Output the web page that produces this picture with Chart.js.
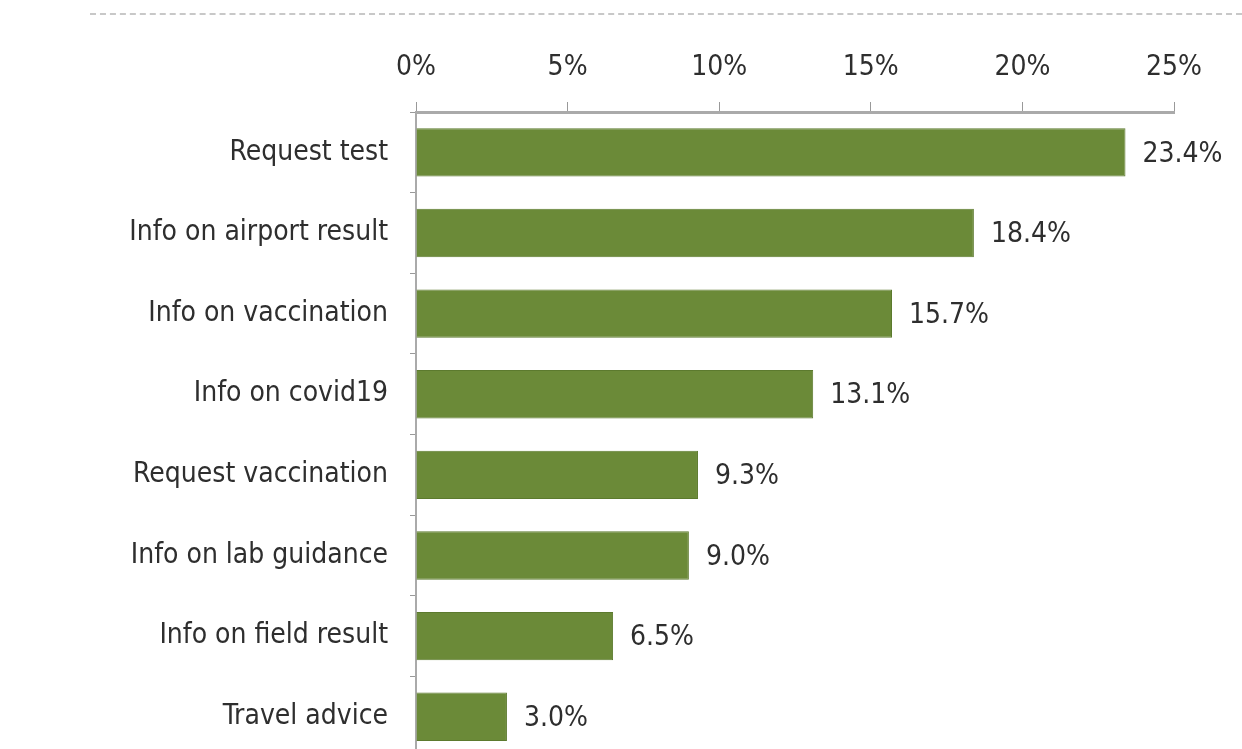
<!DOCTYPE html>
<html>
<head>
<meta charset="utf-8">
<script src="https://cdn.jsdelivr.net/npm/chart.js@4"></script>
<style>
  html, body { margin: 0; padding: 0; background: #fff; overflow: hidden; }
  #wrap { position: relative; width: 1242px; height: 760px; }
  #rule { position: absolute; left: 90px; right: 0; top: 13px; border-top: 2px dashed #c8c8c8; }
</style>
</head>
<body>
<div id="wrap">
  <div id="rule"></div>
  <canvas id="myChart" width="1242" height="760"></canvas>
</div>
<script>
const categories = ['Request test', 'Info on airport result', 'Info on vaccination', 'Info on covid19',
  'Request vaccination', 'Info on lab guidance', 'Info on field result', 'Travel advice'];
const shares = [23.4, 18.4, 15.7, 13.1, 9.3, 9.0, 6.5, 3.0];
const tickValues = [0, 5, 10, 15, 20, 25];

const FONT = '"DejaVu Sans Condensed", "Liberation Sans Narrow", sans-serif';

// value labels to the right of each bar
const valueLabels = {
  id: 'valueLabels',
  afterDatasetsDraw(chart) {
    const ctx = chart.ctx;
    const meta = chart.getDatasetMeta(0);
    ctx.save();
    ctx.font = '28px ' + FONT;
    ctx.fillStyle = '#2e2e2e';
    ctx.textAlign = 'left';
    ctx.textBaseline = 'middle';
    meta.data.forEach((bar, i) => {
      ctx.fillText(shares[i].toFixed(1) + '%', bar.x + 17, bar.y + 2);
    });
    ctx.restore();
  }
};

const config = {
  type: 'bar',
  data: {
    labels: categories,
    datasets: [{
      data: shares,
      backgroundColor: '#6b8a38',
      borderColor: '#5c7a2e',
      borderWidth: 1,
      barPercentage: 0.6,
      categoryPercentage: 1.0
    }]
  },
  options: {
    indexAxis: 'y',
    responsive: false,
    animation: false,
    layout: { padding: { left: 0, right: 68, top: 0, bottom: 3 } },
    plugins: {
      legend: { display: false },
      tooltip: { enabled: false }
    },
    scales: {
      x: {
        position: 'top',
        min: 0,
        max: 25,
        afterFit: s => { s.height = 112; s.paddingLeft = 0; s.paddingRight = 0; },
        afterBuildTicks: s => { s.ticks = tickValues.map(v => ({ value: v })); },
        grid: { drawOnChartArea: false, tickLength: 10, color: '#999' },
        border: { color: '#aaa', width: 3 },
        ticks: {
          padding: 17,
          color: '#2e2e2e',
          font: { family: FONT, size: 28 },
          callback: v => v + '%'
        }
      },
      y: {
        afterFit: s => { s.width = 416; s.paddingTop = 0; s.paddingBottom = 0; },
        grid: { drawOnChartArea: false, tickLength: 6, color: '#999', offset: true },
        border: { color: '#aaa', width: 2 },
        ticks: {
          padding: 22,
          color: '#2e2e2e',
          font: { family: FONT, size: 28 }
        }
      }
    }
  },
  plugins: [valueLabels]
};

var ctx = document.getElementById('myChart').getContext('2d');
var chart = new Chart(ctx, config);
</script>
</body>
</html>
